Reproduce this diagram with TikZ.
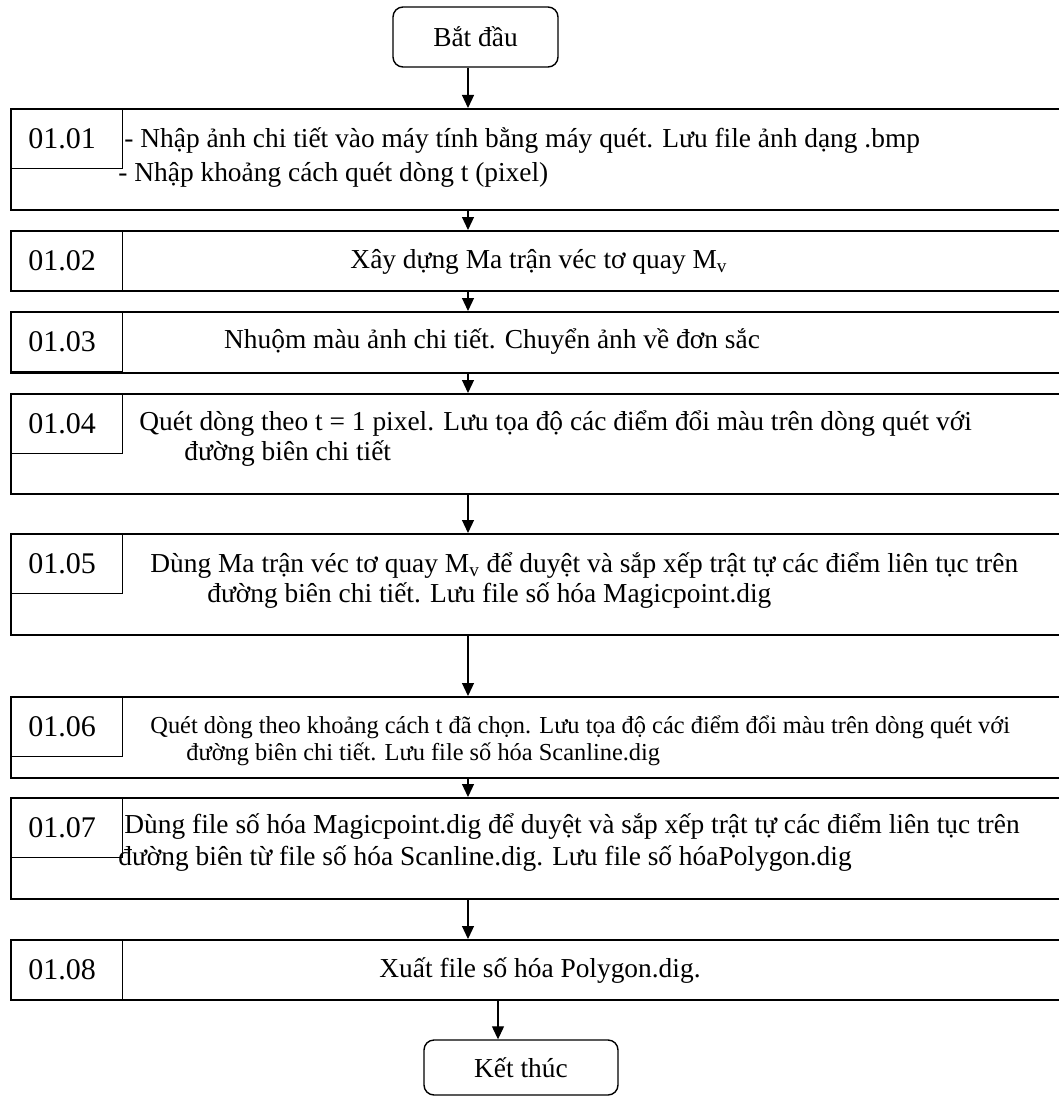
\documentclass[tikz,border=0pt]{standalone}
\usepackage{fontspec}
\setmainfont{Liberation Serif}
\usetikzlibrary{arrows.meta,positioning}

\begin{document}
\begin{tikzpicture}[
    x=0.5pt, y=-0.5pt,
    font=\fontsize{13.7}{15}\selectfont,
    stepframe/.style={
      draw,
      line width=1pt,
      anchor=north west,
      inner sep=0pt,
      minimum width=530pt
    },
    idbox/.style={
      draw,
      line width=0.7pt,
      anchor=north west,
      inner sep=0pt,
      minimum width=56pt,
      minimum height=30pt,
      font=\fontsize{15}{16}\selectfont,
      execute at begin node=\hspace*{-4.5pt}
    },
    terminal/.style={
      draw,
      rounded corners=5pt,
      line width=0.7pt,
      inner sep=0pt
    },
    txt/.style={
      anchor=base west, % base = last line
      inner sep=0pt,
      align=left
    },
    arrow/.style={
      -{Triangle[length=6.5pt, width=6pt]},
      line width=0.6pt
    }
  ]
    \clip (0,0) rectangle (1059,1097);

    \coordinate (ax) at (468,0);
    \coordinate (ay) at (498,0);

    % start / end
    \node[terminal, minimum width=82.5pt, minimum height=30pt] (start) at (475.5,37) {Bắt đầu};
    \node[terminal, minimum width=97pt, minimum height=27.5pt] (stop) at (521,1067.5) {Kết thúc};

    % step frames
    \node[stepframe, minimum height=50.5pt] (b1) at (10,108) {};
    \node[stepframe, minimum height=30pt]   (b2) at (10,230) {};
    \node[stepframe, minimum height=30.5pt] (b3) at (10,311) {};
    \node[stepframe, minimum height=50pt]   (b4) at (10,393) {};
    \node[stepframe, minimum height=50.5pt] (b5) at (10,533) {};
    \node[stepframe, minimum height=40.5pt] (b6) at (10,696) {};
    \node[stepframe, minimum height=50.5pt] (b7) at (10,797) {};
    \node[stepframe, minimum height=30pt]   (b8) at (10,939) {};

    % step numbers
    \node[idbox] (n1) at (b1.north west) {01.01};
    \node[idbox] (n2) at (b2.north west) {01.02};
    \node[idbox] (n3) at (b3.north west) {01.03};
    \node[idbox] (n4) at (b4.north west) {01.04};
    \node[idbox] (n5) at (b5.north west) {01.05};
    \node[idbox] (n6) at (b6.north west) {01.06};
    \node[idbox] (n7) at (b7.north west) {01.07};
    \node[idbox] (n8) at (b8.north west) {01.08};

    % step texts
    \node[txt] (t1) at (124,181) {- Nhập ảnh chi tiết vào máy tính bằng máy quét. Lưu file ảnh dạng .bmp\\[2pt]\hspace*{-3pt}- Nhập khoảng cách quét dòng t (pixel)};
    \node[txt, anchor=base] (t2) at (539,268) {Xây dựng Ma trận véc tơ quay M\textsubscript{v}};
    \node[txt, anchor=base] (t3) at (492,348) {Nhuộm màu ảnh chi tiết. Chuyển ảnh về đơn sắc};
    \node[txt] (t4) at (139,460) {Quét dòng theo t = 1 pixel. Lưu tọa độ các điểm đổi màu trên dòng quét với\\\hspace*{22.5pt}đường biên chi tiết};
    \node[txt] (t5) at (150,602) {Dùng Ma trận véc tơ quay M\textsubscript{v} để duyệt và sắp xếp trật tự các điểm liên tục trên\\\hspace*{28.5pt}đường biên chi tiết. Lưu file số hóa Magicpoint.dig};
    \node[txt, font=\fontsize{12.2}{13.5}\selectfont] (t6) at (150,760) {Quét dòng theo khoảng cách t đã chọn. Lưu tọa độ các điểm đổi màu trên dòng quét với\\\hspace*{18pt}đường biên chi tiết. Lưu file số hóa Scanline.dig};
    \node[txt] (t7) at (124,865) {Dùng file số hóa Magicpoint.dig để duyệt và sắp xếp trật tự các điểm liên tục trên\\[1pt]\hspace*{-3pt}đường biên từ file số hóa Scanline.dig. Lưu file số hóaPolygon.dig};
    \node[txt, anchor=base] (t8) at (540,977) {Xuất file số hóa Polygon.dig.};

    % connectors
    \draw[arrow] (start.south -| ax) -- (b1.north -| ax);
    \draw[arrow] (b1.south -| ax) -- (b2.north -| ax);
    \draw[arrow] (b2.south -| ax) -- (b3.north -| ax);
    \draw[arrow] (b3.south -| ax) -- (b4.north -| ax);
    \draw[arrow] (b4.south -| ax) -- (b5.north -| ax);
    \draw[arrow] (b5.south -| ax) -- (b6.north -| ax);
    \draw[arrow] (b6.south -| ax) -- (b7.north -| ax);
    \draw[arrow] (b7.south -| ax) -- (b8.north -| ax);
    \draw[arrow] (b8.south -| ay) -- (stop.north -| ay);
\end{tikzpicture}
\end{document}
